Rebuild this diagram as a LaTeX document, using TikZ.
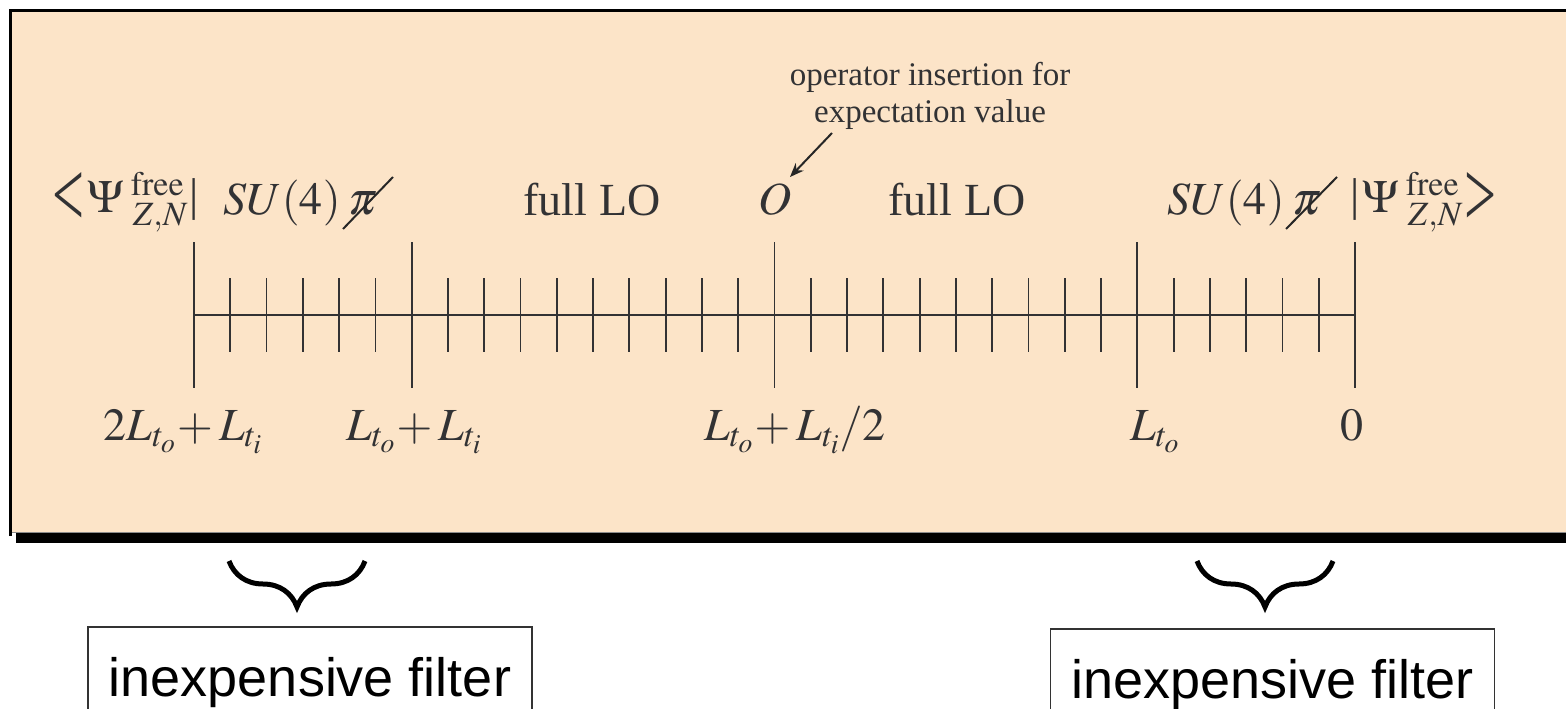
\documentclass[tikz,border=0pt]{standalone}
\usepackage[no-math]{fontspec}
\usepackage{mathptmx}
\setmainfont{Liberation Serif}
\newfontfamily\boxsans{Liberation Sans}
\usepackage{graphicx}
\usetikzlibrary{arrows.meta,decorations.pathreplacing,calc}
\definecolor{peach}{RGB}{252,228,200}
\definecolor{ink}{RGB}{50,50,52}
\begin{document}
\begin{tikzpicture}[x=1pt,y=-1pt,
  lab/.style={inner sep=0pt, text=ink, font=\fontsize{46}{55}\selectfont},
  small/.style={inner sep=0pt, text=ink, font=\fontsize{33}{37}\selectfont},
  tickline/.style={draw=ink, line width=1.8pt},
  slashline/.style={draw=black!85, line width=2pt},
  arr/.style={draw=black!85, line width=2pt, -{Stealth[length=14pt,width=11pt]}},
  brc/.style={draw=black, line width=5pt, decorate, decoration={brace, amplitude=46pt, aspect=0.5}},
  filterbox/.style={draw=black!80, line width=1.5pt, inner sep=0pt, anchor=north,
    minimum width=444pt, text height=70pt, text depth=40pt,
    font=\boxsans\fontsize{54}{60}\selectfont}
]
\useasboundingbox (0,0) rectangle (1566,709);
\clip (0,0) rectangle (1566,709);
\fill[white] (0,0) rectangle (1566,709);
% frame
\fill[peach] (12,12) rectangle (1580,532);
\fill[black] (16,532.5) rectangle (1580,543);
\draw[black, line width=3.5pt] (10.5,536) -- (10.5,10.5) -- (1580,10.5);
\draw[black!45, line width=1pt] (12,532) -- (1580,532);

% axis and ticks
\draw[tickline] (194,315) -- (1355,315);
\foreach \k in {1,2,3,4,5,7,8,9,10,11,12,13,14,15,17,18,19,20,21,22,23,24,25,27,28,29,30,31}
  \draw[tickline] ({194+\k*36.28125},278) -- ({194+\k*36.28125},352);
\foreach \k in {0,6,16,26,32}
  \draw[tickline] ({194+\k*36.28125},242) -- ({194+\k*36.28125},388);

% bra
\node[lab] (lang) at (68.5,199) {\resizebox{32pt}{54pt}{<}};
\node[lab, anchor=base west] (lpsi) at (87,212) {$\Psi^{\kern7pt\mathrm{free}}_{\kern9pt Z,N}$};
\node[lab] (lbar) at (194,199.5) {|};
% ket
\node[lab] (rbar) at (1355,199.5) {|};
\node[lab, anchor=base west] (rpsi) at (1362,212) {$\Psi^{\kern7pt\mathrm{free}}_{\kern9pt Z,N}$};
\node[lab] (rang) at (1480,199) {\resizebox{32pt}{54pt}{>}};

% SU(4) and slashed pi
\node[lab, anchor=base] (lsu) at (282,214) {$SU(4)$};
\node[lab, anchor=base] (lpi) at (363,214) {$\pi$};
\draw[slashline] ($(lpi.base)+(-20,15)$) -- ($(lpi.base)+(30,-37)$);
\node[lab, anchor=base] (rsu) at (1226,214) {$SU(4)$};
\node[lab, anchor=base] (rpi) at (1307,214) {$\pi$};
\draw[slashline] ($(rpi.base)+(-21,15)$) -- ($(rpi.base)+(30,-37)$);

% middle labels
\node[lab, anchor=base] (lfull) at (592,215) {full LO};
\node[lab, anchor=base] (opO) at (775,214) {$O$};
\node[lab, anchor=base] (rfull) at (957,215) {full LO};

% annotation
\node[small, anchor=base] (ann1) at (930,85) {operator insertion for};
\node[small, anchor=base] (ann2) at (930,122) {expectation value};
\coordinate (arrstart) at (832,133);
\coordinate (arrtip) at (790,177);
\draw[arr] (arrstart) -- (arrtip);

% bottom labels
\node[lab, anchor=base] (t1) at (183,440) {$2L_{t_o}\!+L_{t_i}$};
\node[lab, anchor=base] (t2) at (414,440) {$L_{t_o}\!+L_{t_i}$};
\node[lab, anchor=base] (t3) at (795,440) {$L_{t_o}\!+L_{t_i}/2$};
\node[lab, anchor=base] (t4) at (1155,440) {$L_{t_o}$};
\node[lab, anchor=base] (t5) at (1352,440) {$0$};

% braces
\coordinate (lb1) at (365,561);
\coordinate (lb2) at (229,561);
\draw[brc] (lb1) -- (lb2);
\coordinate (rb1) at (1333,561);
\coordinate (rb2) at (1197,561);
\draw[brc] (rb1) -- (rb2);

% filter boxes
\node[filterbox] (lfilter) at (310,626) {inexpensive filter};
\node[filterbox] (rfilter) at (1272.5,628) {inexpensive filter};
\end{tikzpicture}
\end{document}
